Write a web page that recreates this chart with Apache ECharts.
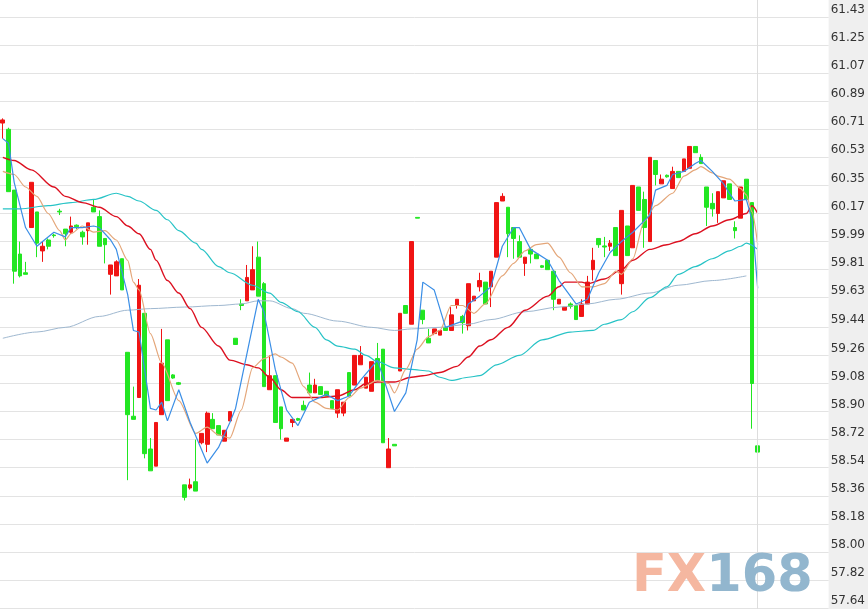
<!DOCTYPE html>
<html>
<head>
<meta charset="utf-8">
<script src="https://cdn.jsdelivr.net/npm/echarts@6/dist/echarts.min.js"></script>
<style>
html,body{margin:0;padding:0;background:#efefef;}
#chart{width:868px;height:609px;}
</style>
</head>
<body>
<div id="chart"></div>
<script>
// Slot count of the category axis (134 candles + empty slots on the right)
const slotCount = 146;
const categories = Array.from({length: slotCount}, (_, i) => String(i));

// Right axis tick labels
const yTicks = [57.64, 57.82, 58.00, 58.18, 58.36, 58.54, 58.72, 58.90, 59.08, 59.26, 59.44,
  59.63, 59.81, 59.99, 60.17, 60.35, 60.53, 60.71, 60.89, 61.07, 61.25, 61.43];

// Candles: [open, close, low, high]
const candles = [
  [60.75,60.77,60.65,60.78],[60.71,60.31,60.31,60.72],[60.32,59.80,59.72,60.32],[59.91,59.77,59.76,59.99],
  [59.79,59.78,59.78,59.86],[60.08,60.37,60.08,60.37],[60.18,59.98,59.89,60.18],[59.93,59.96,59.86,59.99],
  [60.00,59.96,59.94,60.01],[60.032,60.028,60.015,60.04],[60.185,60.18,60.16,60.20],[60.07,60.04,59.96,60.07],
  [60.05,60.09,60.04,60.15],[60.095,60.085,60.07,60.10],[60.05,60.02,59.97,60.06],[60.06,60.11,59.97,60.11],
  [60.21,60.18,60.18,60.26],[60.15,59.96,59.96,60.19],[60.01,59.97,59.85,60.01],[59.78,59.84,59.65,59.84],
  [59.77,59.86,59.77,59.87],[59.88,59.68,59.68,59.88],[59.28,58.88,58.46,59.28],[58.87,58.85,58.85,59.06],
  [58.99,59.71,58.99,59.75],[59.53,58.63,58.60,59.53],[58.66,58.52,58.52,58.73],[58.55,58.83,58.55,58.83],
  [58.88,59.21,58.88,59.43],[59.36,58.97,58.97,59.36],[59.135,59.115,59.11,59.14],[59.085,59.075,59.07,59.09],
  [58.43,58.35,58.33,58.43],[58.41,58.43,58.40,58.47],[58.45,58.39,58.39,58.72],[58.70,58.76,58.69,58.76],
  [58.69,58.89,58.64,58.90],[58.85,58.79,58.79,58.89],[58.81,58.75,58.75,58.81],[58.71,58.78,58.71,58.78],
  [58.84,58.90,58.84,58.90],[59.37,59.33,59.33,59.37],[59.59,59.58,59.55,59.62],[59.61,59.76,59.61,59.84],
  [59.68,59.81,59.68,59.96],[59.89,59.64,59.64,59.99],[59.72,59.06,59.06,59.73],[59.04,59.13,59.04,59.26],
  [59.13,58.83,58.83,59.13],[58.93,58.79,58.72,58.93],[58.71,58.73,58.71,58.73],[58.83,58.85,58.80,58.85],
  [58.855,58.845,58.84,58.86],[58.94,58.91,58.91,58.97],[59.07,59.02,59.02,59.15],[59.02,59.07,59.02,59.11],
  [59.06,59.01,59.01,59.06],[59.03,59.00,59.00,59.03],[58.97,58.92,58.92,58.97],[58.89,59.04,58.86,59.04],
  [58.89,58.96,58.87,58.96],[59.15,59.00,59.00,59.15],[59.07,59.26,59.07,59.26],[59.20,59.26,59.20,59.32],
  [59.05,59.12,59.05,59.12],[59.03,59.22,59.03,59.22],[59.24,59.10,59.10,59.34],[59.30,58.70,58.70,59.30],
  [58.54,58.66,58.54,58.73],[58.69,58.68,58.68,58.69],[59.16,59.53,59.16,59.53],[59.58,59.53,59.53,59.58],
  [59.46,59.99,59.46,59.99],[60.145,60.14,60.14,60.145],[59.55,59.49,59.46,59.55],[59.37,59.34,59.34,59.43],
  [59.40,59.43,59.39,59.43],[59.39,59.42,59.39,59.42],[59.44,59.42,59.42,59.44],[59.42,59.52,59.42,59.57],
  [59.58,59.62,59.56,59.62],[59.51,59.47,59.40,59.52],[59.45,59.72,59.42,59.72],[59.61,59.64,59.61,59.64],
  [59.70,59.74,59.67,59.79],[59.73,59.59,59.59,59.73],[59.70,59.80,59.57,59.80],[59.89,60.24,59.89,60.24],
  [60.25,60.28,60.25,60.30],[60.21,60.04,59.89,60.21],[60.08,60.01,59.88,60.08],[59.99,59.89,59.89,60.03],
  [59.85,59.89,59.77,59.89],[59.94,59.91,59.85,59.94],[59.91,59.88,59.88,59.91],[59.835,59.825,59.82,59.84],
  [59.87,59.81,59.81,59.87],[59.80,59.62,59.55,59.80],[59.59,59.62,59.59,59.62],[59.55,59.57,59.55,59.57],
  [59.59,59.575,59.56,59.60],[59.58,59.49,59.49,59.58],[59.51,59.59,59.51,59.62],[59.59,59.73,59.59,59.77],
  [59.81,59.87,59.74,59.95],[60.01,59.97,59.95,60.01],[59.962,59.955,59.89,60.02],[59.96,59.98,59.93,60.00],
  [60.08,59.90,59.90,60.08],[59.72,60.19,59.65,60.19],[60.09,59.90,59.90,60.09],[59.95,60.35,59.95,60.35],
  [60.34,60.19,60.19,60.34],[60.26,60.08,59.95,60.31],[59.99,60.53,59.99,60.53],[60.51,60.42,60.35,60.51],
  [60.36,60.39,60.36,60.42],[60.415,60.405,60.40,60.42],[60.33,60.44,60.33,60.47],[60.44,60.40,60.40,60.44],
  [60.44,60.52,60.44,60.52],[60.46,60.60,60.46,60.60],[60.60,60.56,60.56,60.60],[60.53,60.49,60.49,60.55],
  [60.34,60.21,60.09,60.34],[60.235,60.20,60.15,60.30],[60.17,60.31,60.11,60.31],[60.27,60.38,60.27,60.38],
  [60.36,60.26,60.26,60.36],[60.08,60.06,60.01,60.12],[60.14,60.34,60.14,60.34],[60.39,60.26,60.26,60.39],
  [60.24,59.08,58.79,60.24],[58.68,58.64,58.64,58.91]
];

// Moving-average lines: [slot index, value]
const maBlue = [[0,60.65],[1,60.62],[2,60.37],[4,60.08],[6,59.96],[7,59.99],[9,60.05],[11,60.02],[12,60.08],[14,60.08],[16,60.09],[17,60.08],[19,60.00],[20,59.94],[22,59.65],[23,59.42],[24,59.41],[26,58.92],[27,58.91],[28,58.96],[29,58.84],[31,59.04],[33,58.83],[36,58.57],[38,58.67],[40,58.83],[41,58.92],[45,59.62],[46,59.54],[48,59.17],[50,58.91],[52,58.81],[54,58.96],[57,59.01],[59,58.97],[61,59.00],[63,59.10],[66,59.23],[69,58.90],[71,59.02],[73,59.36],[74,59.73],[76,59.68],[78,59.44],[81,59.48],[82,59.59],[84,59.64],[86,59.70],[88,59.96],[90,60.08],[91,60.08],[93,59.94],[96,59.87],[98,59.74],[101,59.59],[103,59.62],[105,59.79],[107,59.92],[109,59.99],[111,60.05],[114,60.16],[115,60.32],[117,60.35],[118,60.42],[120,60.44],[122,60.49],[123,60.51],[125,60.44],[127,60.36],[128,60.30],[129,60.25],[131,60.26],[132,60.13],[133,59.69]];
const maTan = [[0,60.44],[2,60.42],[4,60.34],[6,60.28],[8,60.17],[10,60.06],[11,60.00],[12,60.04],[14,60.09],[16,60.05],[18,60.06],[20,60.00],[22,59.87],[23,59.73],[24,59.68],[26,59.40],[28,59.21],[31,58.97],[34,58.76],[36,58.80],[38,58.75],[40,58.73],[42,58.91],[44,59.18],[46,59.24],[48,59.27],[49,59.25],[51,59.21],[53,59.06],[55,58.96],[57,58.92],[59,58.91],[61,58.99],[63,59.05],[66,59.10],[68,59.08],[69,59.02],[71,59.17],[73,59.30],[75,59.38],[77,59.42],[79,59.58],[81,59.58],[83,59.53],[85,59.59],[88,59.77],[90,59.85],[92,59.93],[94,59.97],[96,59.98],[98,59.89],[100,59.79],[102,59.70],[104,59.70],[106,59.72],[108,59.80],[109,59.78],[111,59.88],[113,60.12],[115,60.22],[118,60.30],[120,60.41],[122,60.45],[123,60.47],[125,60.43],[126,60.41],[128,60.39],[130,60.33],[131,60.29],[132,60.18],[133,59.97]];
const maRed = [[0,60.53],[2,60.51],[5,60.45],[9,60.34],[11,60.28],[14,60.24],[17,60.21],[20,60.15],[22,60.09],[24,60.04],[26,59.94],[27,59.87],[29,59.74],[31,59.66],[33,59.56],[35,59.44],[38,59.32],[40,59.23],[43,59.20],[45,59.18],[47,59.12],[49,59.04],[51,58.99],[53,58.99],[56,58.99],[59,59.00],[62,59.04],[64,59.08],[66,59.09],[69,59.09],[72,59.12],[74,59.13],[77,59.15],[80,59.19],[82,59.25],[84,59.32],[86,59.36],[89,59.44],[92,59.55],[96,59.64],[98,59.70],[99,59.73],[102,59.73],[103,59.72],[106,59.75],[109,59.81],[111,59.87],[114,59.94],[117,59.97],[119,59.99],[122,60.04],[125,60.09],[128,60.13],[131,60.17],[132,60.22],[133,60.17]];
const maCyan = [[0,60.20],[3,60.20],[8,60.22],[12,60.24],[16,60.26],[20,60.30],[22,60.28],[24,60.25],[27,60.19],[29,60.13],[31,60.06],[34,59.98],[35,59.94],[38,59.83],[40,59.79],[44,59.71],[47,59.66],[49,59.60],[52,59.54],[55,59.44],[57,59.36],[59,59.32],[62,59.30],[64,59.26],[66,59.22],[69,59.18],[72,59.17],[75,59.16],[77,59.12],[79,59.10],[82,59.12],[84,59.13],[87,59.20],[91,59.26],[95,59.36],[100,59.41],[104,59.42],[106,59.46],[109,59.49],[111,59.54],[114,59.63],[117,59.70],[119,59.78],[122,59.83],[125,59.88],[128,59.93],[130,59.96],[131,59.98],[133,59.94]];
const maSteel = [[0,59.37],[6,59.41],[11,59.44],[17,59.51],[22,59.55],[26,59.56],[32,59.57],[38,59.58],[42,59.59],[45,59.61],[47,59.61],[51,59.56],[53,59.53],[59,59.48],[65,59.44],[69,59.42],[72,59.43],[77,59.44],[82,59.46],[86,59.49],[92,59.54],[98,59.57],[103,59.59],[108,59.62],[114,59.66],[119,59.71],[125,59.74],[131,59.77]];

const lastIndex = candles.length - 1;
const UP = '#f01414';
const DOWN = '#22e622';

function maSeries(data, color, width, smooth) {
  return {
    type: 'line', data: data, symbol: 'none', showSymbol: false, smooth: smooth,
    smoothMonotone: 'x', silent: true, z: 3,
    lineStyle: {color: color, width: width}, itemStyle: {color: color}
  };
}

const chart = echarts.init(document.getElementById('chart'), null, {renderer: 'canvas'});
chart.setOption({
  animation: false,
  backgroundColor: '#efefef',
  grid: {left: -1, right: 38, top: 0, bottom: 0, show: true, backgroundColor: '#ffffff', borderWidth: 0},
  xAxis: {type: 'category', data: categories, boundaryGap: true, show: false},
  yAxis: {
    type: 'value', position: 'right', min: 57.634, max: 61.539, scale: true,
    axisLine: {show: false},
    axisTick: {show: false, customValues: yTicks},
    splitLine: {show: true, lineStyle: {color: '#e3e3e3', width: 1}},
    axisLabel: {
      customValues: yTicks, formatter: v => Number(v).toFixed(2),
      color: '#333333', fontSize: 12, fontFamily: 'DejaVu Sans',
      verticalAlign: 'bottom', align: 'left', margin: 2, padding: [0, 0, 1, 0]
    }
  },
  series: [
    {
      type: 'candlestick', data: candles, barWidth: '74%', z: 2,
      itemStyle: {color: UP, color0: DOWN, borderColor: UP, borderColor0: DOWN, borderWidth: 1},
      markLine: {
        silent: true, symbol: ['none', 'none'], label: {show: false},
        lineStyle: {color: '#dddddd', type: 'solid', width: 1},
        data: [{xAxis: categories[lastIndex]}]
      }
    },
    maSeries(maSteel, '#9fb8d0', 1, 0.3),
    maSeries(maCyan, '#27c3c6', 1.2, 0.3),
    maSeries(maRed, '#dc1020', 1.4, 0.3),
    maSeries(maTan, '#e4a679', 1.2, 0.25),
    maSeries(maBlue, '#3a8ee6', 1.2, false)
  ],
  graphic: [{
    type: 'text', left: 632, top: 552, z: 100, silent: true,
    style: {
      text: '{a|FX}{b|168}',
      rich: {
        a: {fill: '#f5b7a0', fontSize: 51, fontWeight: 'bold', fontFamily: 'DejaVu Sans'},
        b: {fill: '#92b6ce', fontSize: 51, fontWeight: 'bold', fontFamily: 'DejaVu Sans'}
      }
    }
  }]
});
</script>
</body>
</html>
